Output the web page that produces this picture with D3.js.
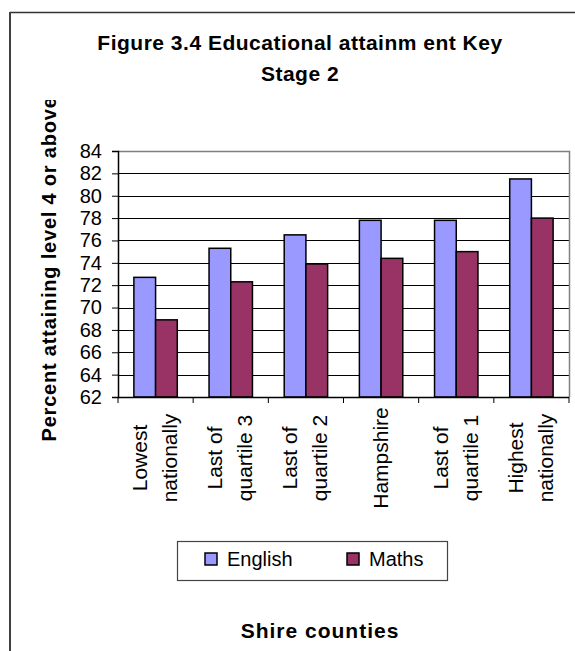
<!DOCTYPE html>
<html><head><meta charset="utf-8">
<script src="https://cdn.jsdelivr.net/npm/d3@7"></script>
<style>
html,body{margin:0;padding:0;background:#fff;}
svg{display:block;font-family:Arial,"Liberation Sans",sans-serif;}
</style></head>
<body>
<svg id="chart" width="575" height="651"></svg>
<script>
const categories = [["Lowest","nationally"],["Last of","quartile 3"],["Last of","quartile 2"],["Hampshire"],["Last of","quartile 1"],["Highest","nationally"]];
const seriesNames = ["English","Maths"];
const english = [72.7, 75.3, 76.5, 77.8, 77.8, 81.5];
const maths = [68.9, 72.3, 73.9, 74.4, 75.0, 78.0];
const yTicks = [62,64,66,68,70,72,74,76,78,80,82,84];
const colors = ["#9999FF","#993366"];
const titleLines = ["Figure 3.4 Educational attainm ent Key","Stage 2"];
const yTitle = "Percent attaining level 4 or above";
const xTitle = "Shire counties";

const svg = d3.select("#chart");
// outer frame
svg.append("line").attr("x1",10).attr("x2",580).attr("y1",12.5).attr("y2",12.5).attr("stroke","#333").attr("stroke-width",1.5);
svg.append("line").attr("x1",10).attr("x2",10).attr("y1",12).attr("y2",660).attr("stroke","#404040").attr("stroke-width",2);

const L=118, R=569, T=151, B=397;
const x = d3.scaleBand().domain(d3.range(categories.length)).range([L,R]).paddingInner(0).paddingOuter(0);
const bw = x.bandwidth()*0.2887;
const xs = d3.scaleBand().domain(seriesNames).range([(x.bandwidth()-2*bw)/2,(x.bandwidth()+2*bw)/2]);
const y = d3.scaleLinear().domain([62,84]).range([B,T]);

// gridlines
svg.append("g").selectAll("line").data(yTicks.slice(1)).join("line")
  .attr("x1",L).attr("x2",R).attr("y1",d=>Math.round(y(d))+0.5).attr("y2",d=>Math.round(y(d))+0.5)
  .attr("stroke","#000").attr("stroke-width",1);
// plot border top/right
svg.append("path").attr("d",`M${L},${T+0.5}H${R+0.5}V${B}`).attr("fill","none").attr("stroke","#808080").attr("stroke-width",1.5);

// bars
const data = [english, maths];
const g = svg.append("g");
categories.forEach((c,i)=>{
  seriesNames.forEach((s,j)=>{
    const v = data[j][i];
    g.append("rect").attr("x",x(i)+xs(s)).attr("width",xs.bandwidth())
      .attr("y",y(v)).attr("height",y(62)-y(v))
      .attr("fill",colors[j]).attr("stroke","#000").attr("stroke-width",1.5);
  });
});

// y axis
const ya = svg.append("g").attr("transform",`translate(${L},0)`)
  .call(d3.axisLeft(y).tickValues(yTicks).tickSize(6).tickPadding(10).tickFormat(d3.format("d")));
ya.select(".domain").attr("stroke","#000").attr("stroke-width",1.5);
ya.selectAll(".tick line").attr("stroke","#000");
ya.selectAll("text").attr("font-size",20).attr("font-family","Arial,'Liberation Sans',sans-serif").attr("fill","#000");

// x axis
svg.append("line").attr("x1",L).attr("x2",R).attr("y1",B+0.5).attr("y2",B+0.5).attr("stroke","#000").attr("stroke-width",1.5);
svg.append("g").selectAll("line").data(d3.range(categories.length+1)).join("line")
  .attr("x1",d=>d<categories.length?x(d):R).attr("x2",d=>d<categories.length?x(d):R)
  .attr("y1",B).attr("y2",B+6).attr("stroke","#000").attr("stroke-width",1);

// category labels
categories.forEach((c,i)=>{
  const cx = x(i)+x.bandwidth()/2;
  const n = c.length, lh = 30;
  const t = svg.append("text").attr("transform",`translate(${cx},458) rotate(-90)`)
    .attr("text-anchor","middle").attr("font-size",21).attr("fill","#000");
  c.forEach((line,k)=>{
    t.append("tspan").attr("x",0).attr("y",6.5 + (k-(n-1)/2)*lh).text(line);
  });
});

// title
svg.append("g").selectAll("text").data(titleLines).join("text")
  .attr("x",300).attr("y",(d,i)=>50+i*31).attr("text-anchor","middle")
  .attr("font-size",21).attr("font-weight","bold").attr("letter-spacing",0.5).attr("fill","#000").text(d=>d);

// y title (clipped)
svg.append("defs").append("clipPath").attr("id","yclip").append("rect").attr("x",0).attr("y",100).attr("width",100).attr("height",400);
svg.append("g").attr("clip-path","url(#yclip)")
  .append("text")
  .attr("transform","translate(56,441.5) rotate(-90)").attr("text-anchor","start")
  .attr("font-size",20).attr("font-weight","bold").attr("letter-spacing",0.8).attr("fill","#000").text(yTitle);

// legend
svg.append("rect").attr("x",177.5).attr("y",541.5).attr("width",270).attr("height",39).attr("fill","#fff").attr("stroke","#444").attr("stroke-width",1.2);
const legX = [205, 347];
seriesNames.forEach((s,j)=>{
  svg.append("rect").attr("x",legX[j]).attr("y",553).attr("width",12).attr("height",12).attr("fill",colors[j]).attr("stroke","#000").attr("stroke-width",1.5);
  svg.append("text").attr("x",legX[j]+22).attr("y",566).attr("font-size",20).attr("fill","#000").text(s);
});

// x title
svg.append("text").attr("x",320).attr("y",638).attr("text-anchor","middle")
  .attr("font-size",21).attr("font-weight","bold").attr("letter-spacing",1).attr("fill","#000").text(xTitle);
</script>
</body></html>
